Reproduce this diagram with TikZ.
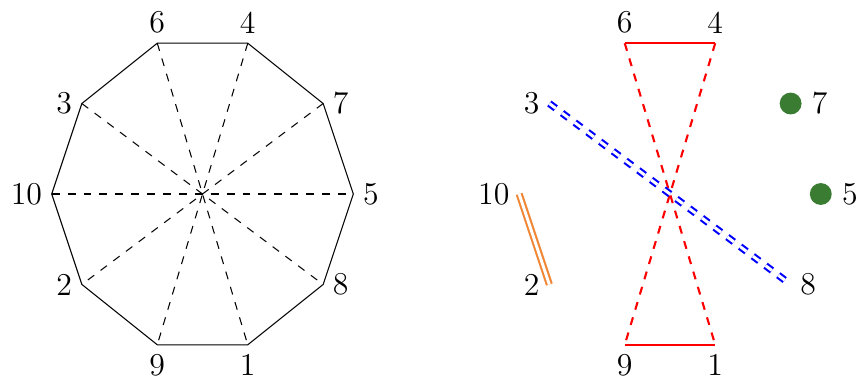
\documentclass[tikz,border=0pt]{standalone}
\definecolor{dotgreen}{RGB}{58,125,50}
\definecolor{myorange}{RGB}{240,135,55}
\tikzset{
  lbl/.style={inner sep=3.5pt, font=\large},
  diam/.style={dashed},
  redsolid/.style={red, thick},
  reddash/.style={red, thick, dashed},
  bluedouble/.style={blue, thick, double, double distance=1.1pt, dashed},
  orangedouble/.style={myorange, thick, double, double distance=1.1pt},
  gdot/.style={circle, fill=dotgreen, inner sep=0pt, minimum size=0.29cm},
}
\begin{document}
\begin{tikzpicture}
\useasboundingbox (-2.686,-2.427) rectangle (8.707,2.573);
% ---------- left decagon ----------
\begin{scope}
\coordinate (L5) at (2,0);
\coordinate (L7) at (1.6,1.2);
\coordinate (L4) at (0.6,2);
\coordinate (L6) at (-0.6,2);
\coordinate (L3) at (-1.6,1.2);
\coordinate (L10) at (-2,0);
\coordinate (L2) at (-1.6,-1.2);
\coordinate (L9) at (-0.6,-2);
\coordinate (L1) at (0.6,-2);
\coordinate (L8) at (1.6,-1.2);
\draw (L5) -- (L7) -- (L4) -- (L6) -- (L3) -- (L10) -- (L2) -- (L9) -- (L1) -- (L8) -- cycle;
\draw[diam] (L6) -- (L1);
\draw[diam] (L4) -- (L9);
\draw[diam] (L3) -- (L8);
\draw[diam] (L7) -- (L2);
\draw[diam] (L10) -- (L5);
\node[lbl, anchor=west] (tL5) at (L5) {5};
\node[lbl, anchor=west] (tL7) at (L7) {7};
\node[lbl, anchor=west] (tL8) at (L8) {8};
\node[lbl, anchor=south] (tL4) at (L4) {4};
\node[lbl, anchor=south] (tL6) at (L6) {6};
\node[lbl, anchor=east] (tL3) at (L3) {3};
\node[lbl, anchor=east] (tL10) at (L10) {10};
\node[lbl, anchor=east] (tL2) at (L2) {2};
\node[lbl, anchor=north] (tL9) at (L9) {9};
\node[lbl, anchor=north] (tL1) at (L1) {1};
\end{scope}
% ---------- right decagon ----------
\begin{scope}[shift={(6.2,0)}]
\coordinate (R5) at (2,0);
\coordinate (R7) at (1.6,1.2);
\coordinate (R4) at (0.6,2);
\coordinate (R6) at (-0.6,2);
\coordinate (R3) at (-1.6,1.2);
\coordinate (R10) at (-2,0);
\coordinate (R2) at (-1.6,-1.2);
\coordinate (R9) at (-0.6,-2);
\coordinate (R1) at (0.6,-2);
\coordinate (R8) at (1.6,-1.2);
\draw[redsolid] (R6) -- (R4);
\draw[redsolid] (R9) -- (R1);
\draw[reddash] (R6) -- (R1);
\draw[reddash] (R4) -- (R9);
\draw[bluedouble] (R3) -- (R8);
\draw[orangedouble] (R10) -- (R2);
\node[gdot] (d7) at (R7) {};
\node[gdot] (d5) at (R5) {};
\node[lbl, anchor=west] (tR5) at (d5.east) {5};
\node[lbl, anchor=west] (tR7) at (d7.east) {7};
\node[lbl, anchor=west] (tR8) at (R8) {8};
\node[lbl, anchor=south] (tR4) at (R4) {4};
\node[lbl, anchor=south] (tR6) at (R6) {6};
\node[lbl, anchor=east] (tR3) at (R3) {3};
\node[lbl, anchor=east] (tR10) at (R10) {10};
\node[lbl, anchor=east] (tR2) at (R2) {2};
\node[lbl, anchor=north] (tR9) at (R9) {9};
\node[lbl, anchor=north] (tR1) at (R1) {1};
\end{scope}
\end{tikzpicture}
\end{document}
